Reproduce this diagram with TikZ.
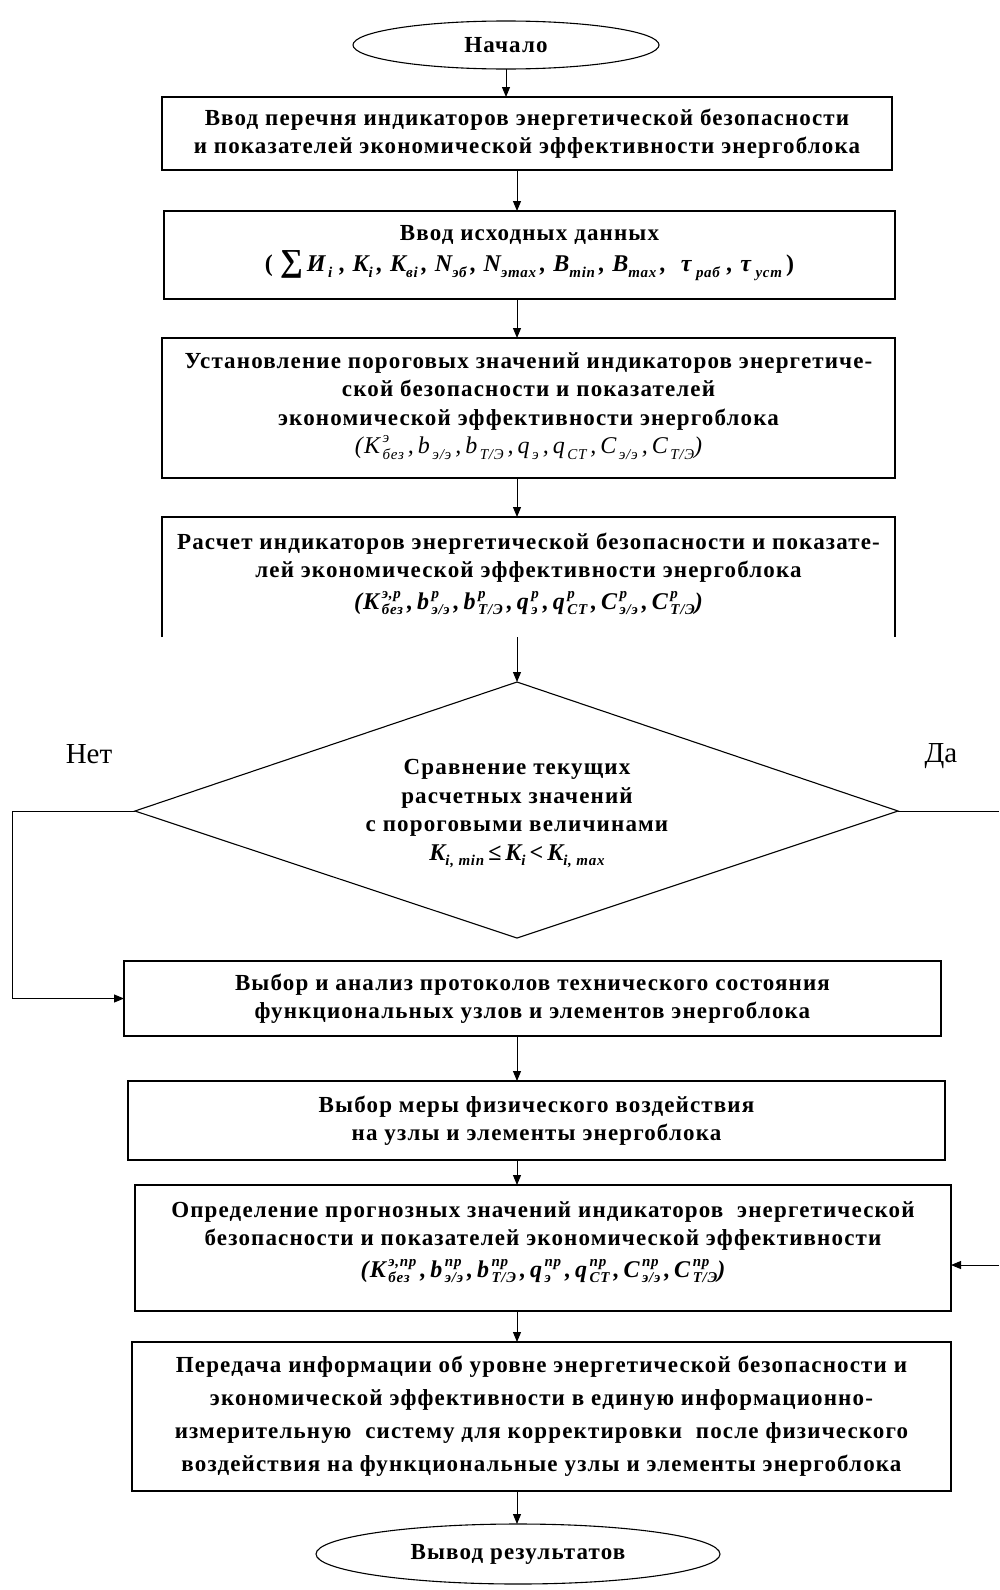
\documentclass[tikz,border=0pt]{standalone}
\usepackage{fontspec}
\setmainfont{Liberation Serif}
\newfontfamily\spacedserif[LetterSpace=5]{Liberation Serif}
\usetikzlibrary{shapes.geometric,arrows.meta}
% sub- and superscripts for the formula lines
\newcommand\sbs[1]{\raisebox{-0.5ex}{\fontsize{15}{15}\selectfont #1}}
\newcommand\sps[1]{\raisebox{1.0ex}{\fontsize{15}{15}\selectfont #1}}
\newcommand\ssp[2]{\setbox0\hbox{\sps{#1}}\setbox2\hbox{\sbs{#2}}%
  \ifdim\wd0>\wd2 \rlap{\box2}\box0\else\rlap{\box0}\box2\fi}
\newcommand\cm{\,,\,}
\begin{document}
\begin{tikzpicture}[x=1pt,y=-1pt,
  every node/.style={inner sep=0pt,outer sep=0pt},
  box/.style={draw,line width=1.1pt,align=center},
  txt/.style={font=\spacedserif\bfseries\fontsize{23}{28.5}\selectfont},
  arr/.style={-{Triangle[length=10pt,width=8pt]},line width=1pt}]
\useasboundingbox (0,0) rectangle (999,1590);
\coordinate (ax) at (517,0);

\node[draw,line width=1.1pt,ellipse,minimum width=306,minimum height=48,txt] (start) at (506,45) {Начало};

\node[box,minimum width=730,minimum height=73,txt] (b1) at (527,133.5)
  {Ввод перечня индикаторов энергетической безопасности\\и показателей экономической эффективности энергоблока};

\node[box,minimum width=731,minimum height=88] (b2) at (529.5,255) {};
\node[txt,align=center] (b2t) at (529.5,253)
  {Ввод исходных данных\\[3pt]
   {\itshape\fontsize{24}{30}\selectfont {\upshape(} {\fontsize{32}{32}\selectfont∑}\,И\sbs{\,i} , K\sbs{i}\,, K\sbs{вi}\,, N\sbs{эб}\,, N\sbs{эmax}\,, B\sbs{min}\,, B\sbs{max}\,, \ τ\sbs{ раб} , τ\sbs{ уст}\,{\upshape)}}};

\node[box,minimum width=733,minimum height=140] (b3) at (528.5,408) {};
\node[txt,align=center] (b3t) at (528.5,406)
  {Установление пороговых значений индикаторов энергетиче-\\ской безопасности и показателей\\экономической эффективности энергоблока\\
   {\mdseries\itshape\fontsize{24}{30}\selectfont (K\ssp{\,э}{\,без}\cm b\sbs{\,э/э}\cm b\sbs{\,Т/Э}\cm q\sbs{\,э}\cm q\sbs{\,СТ}\cm C\sbs{\,э/э}\cm C\sbs{\,Т/Э})}};

% frame open at the bottom
\node[minimum width=733,minimum height=120] (b4) at (528.5,577) {};
\draw[line width=1.1pt] (b4.south west) -- (b4.north west) -- (b4.north east) -- (b4.south east);
\node[txt,align=center] (b4t) at (528.5,574)
  {Расчет индикаторов энергетической безопасности и показате-\\лей экономической эффективности энергоблока\\[3pt]
   {\itshape\fontsize{24}{30}\selectfont (K\ssp{\,э,р}{\,без}\cm b\ssp{\,р}{\,э/э}\cm b\ssp{\,р}{\,Т/Э}\cm q\ssp{\,р}{\,э}\cm q\ssp{\,р}{\,СТ}\cm C\ssp{\,р}{\,э/э}\cm C\ssp{\,р}{\,Т/Э})}};

\coordinate (dt) at (517,682);
\coordinate (dl) at (135,811);
\coordinate (dr) at (898,811);
\coordinate (db) at (517,938);
\draw[line width=1.1pt] (dt) -- (dr) -- (db) -- (dl) -- cycle;
\node[txt,align=center] (dtext) at (517,814)
  {Сравнение текущих\\расчетных значений\\с пороговыми величинами\\
   {\itshape\fontsize{24}{30}\selectfont K\sbs{i, min}\,≤\,K\sbs{i}\,<\,K\sbs{i, max}}};

\node[font=\fontsize{29}{29}\selectfont] (no) at (89,754) {Нет};
\node[font=\fontsize{29}{29}\selectfont] (yes) at (941,756) {Да};

\node[box,minimum width=817,minimum height=75,txt] (b5) at (532.5,998.5)
  {Выбор и анализ протоколов технического состояния\\функциональных узлов и элементов энергоблока};

\node[box,minimum width=817,minimum height=79,txt] (b6) at (536.5,1120.5)
  {Выбор меры физического воздействия\\на узлы и элементы энергоблока};

\node[box,minimum width=816,minimum height=126] (b7) at (543,1248) {};
\node[txt,align=center] (b7t) at (543,1242)
  {Определение прогнозных значений индикаторов \ энергетической\\безопасности и показателей экономической эффективности\\[3pt]
   {\itshape\fontsize{24}{30}\selectfont (K\ssp{\,э,пр}{\,без}\cm b\ssp{\,пр}{\,э/э}\cm b\ssp{\,пр}{\,Т/Э}\cm q\ssp{\,пр}{\,э}\cm q\ssp{\,пр}{\,СТ}\cm C\ssp{\,пр}{\,э/э}\cm C\ssp{\,пр}{\,Т/Э})}};

\node[box,minimum width=819,minimum height=149,txt,font=\spacedserif\bfseries\fontsize{23}{33}\selectfont] (b8) at (541.5,1416.5)
  {Передача информации об уровне энергетической безопасности и\\экономической эффективности в единую информационно-\\измерительную \ систему для корректировки \ после физического\\воздействия на функциональные узлы и элементы энергоблока};

\node[draw,line width=1.1pt,ellipse,minimum width=404,minimum height=60,txt] (end) at (518,1554) {Вывод результатов};

% connectors
\draw[arr] (start.south) -- (b1.north -| start.south);
\draw[arr] (b1.south -| ax) -- (b2.north -| ax);
\draw[arr] (b2.south -| ax) -- (b3.north -| ax);
\draw[arr] (b3.south -| ax) -- (b4.north -| ax);
\draw[arr] (b4.south -| ax) -- (dt);
\coordinate (nocorner) at (12,811);
\draw[arr] (dl) -- (nocorner) |- (b5.west);
\coordinate (yesout) at (999,811);
\draw[line width=1pt] (dr) -- (yesout);
\coordinate (yesin) at (999,1265);
\draw[arr] (yesin) -- (yesin -| b7.east);
\draw[arr] (b5.south -| ax) -- (b6.north -| ax);
\draw[arr] (b6.south -| ax) -- (b7.north -| ax);
\draw[arr] (b7.south -| ax) -- (b8.north -| ax);
\draw[arr] (b8.south -| ax) -- (end.north -| ax);
\end{tikzpicture}
\end{document}
